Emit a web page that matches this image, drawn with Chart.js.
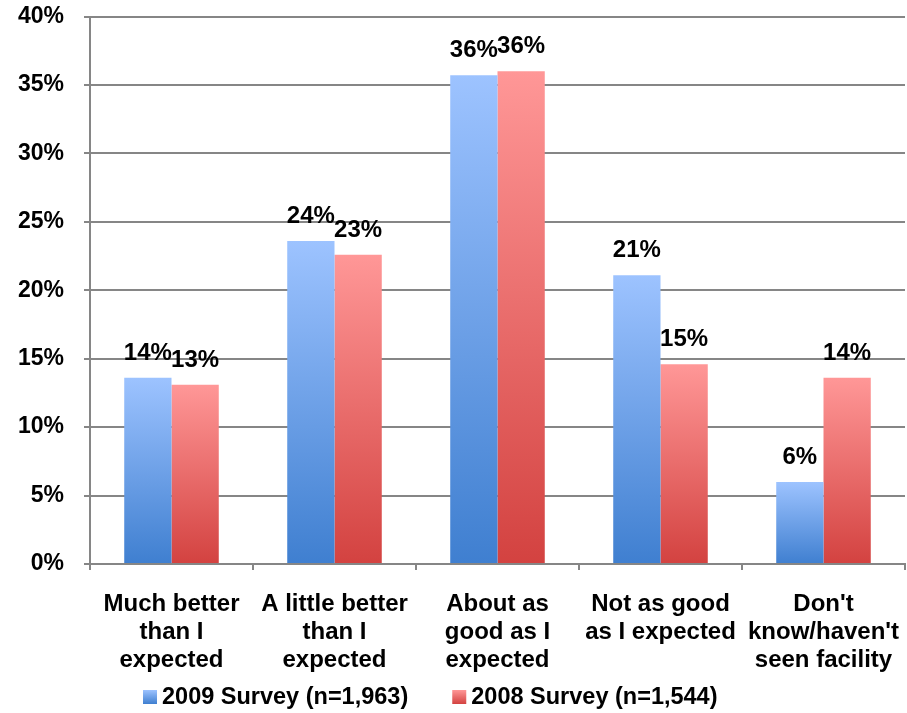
<!DOCTYPE html>
<html>
<head>
<meta charset="utf-8">
<script src="https://cdn.jsdelivr.net/npm/chart.js@4.4.0/dist/chart.umd.min.js"></script>
<style>
  html, body { margin: 0; padding: 0; background: #fff; }
  #wrap { width: 907px; height: 713px; position: relative; }
</style>
</head>
<body>
<div id="wrap"><canvas id="chart"></canvas></div>
<script>
const categories = [
  ["Much better", "than I", "expected"],
  ["A little better", "than I", "expected"],
  ["About as", "good as I", "expected"],
  ["Not as good", "as I expected"],
  ["Don't", "know/haven't", "seen facility"]
];
const seriesNames = ["2009 Survey (n=1,963)", "2008 Survey (n=1,544)"];
const survey2009 = [13.6, 23.6, 35.7, 21.1, 6.0];
const survey2008 = [13.1, 22.6, 36.0, 14.6, 13.6];
const yTicks = [0, 5, 10, 15, 20, 25, 30, 35, 40];

const FONT = "'Liberation Sans', Arial, sans-serif";
const GRID = "#868686";
const colors = [
  { top: "#9dc3ff", bottom: "#3f7fd0" },
  { top: "#ff9797", bottom: "#d34240" }
];

function barGradient(idx) {
  return function (ctx) {
    const chart = ctx.chart;
    if (!chart.chartArea || ctx.type !== "data") return colors[idx].top;
    const y = chart.scales.y;
    const yTop = y.getPixelForValue(ctx.raw);
    const yBot = y.getPixelForValue(0);
    if (!isFinite(yTop) || yTop === yBot) return colors[idx].top;
    const g = chart.ctx.createLinearGradient(0, yTop, 0, yBot);
    g.addColorStop(0, colors[idx].top);
    g.addColorStop(1, colors[idx].bottom);
    return g;
  };
}

// value labels above each bar
const valueLabels = {
  id: "valueLabels",
  afterDatasetsDraw(chart) {
    const c = chart.ctx;
    c.save();
    c.font = "bold 24px " + FONT;
    c.fillStyle = "#000";
    c.textAlign = "center";
    c.textBaseline = "alphabetic";
    chart.data.datasets.forEach((ds, i) => {
      chart.getDatasetMeta(i).data.forEach((bar, j) => {
        c.fillText(Math.round(ds.data[j]) + "%", bar.x, bar.y - 18);
      });
    });
    c.restore();
  }
};

// legend at the bottom with gradient boxes
const bottomLegend = {
  id: "bottomLegend",
  afterDraw(chart) {
    const c = chart.ctx;
    c.save();
    c.font = "bold 23.5px " + FONT;
    c.textBaseline = "middle";
    c.textAlign = "left";
    let x = 143;
    const cy = 697;
    seriesNames.forEach((name, i) => {
      const g = c.createLinearGradient(0, cy - 7, 0, cy + 7);
      g.addColorStop(0, colors[i].top);
      g.addColorStop(1, colors[i].bottom);
      c.fillStyle = g;
      c.fillRect(x, cy - 7, 14, 14);
      c.fillStyle = "#000";
      c.fillText(name, x + 19, cy + 1);
      x += 19 + c.measureText(name).width + 44;
    });
    c.restore();
  }
};

new Chart(document.getElementById("chart"), {
  type: "bar",
  data: {
    labels: categories,
    datasets: [
      { label: seriesNames[0], data: survey2009, backgroundColor: barGradient(0), borderWidth: 0 },
      { label: seriesNames[1], data: survey2008, backgroundColor: barGradient(1), borderWidth: 0 }
    ]
  },
  options: {
    responsive: true,
    maintainAspectRatio: false,
    animation: false,
    datasets: {
      bar: { categoryPercentage: 0.58, barPercentage: 1 }
    },
    layout: {
      padding: { top: 16.5, right: 2, left: 0, bottom: 40 }
    },
    plugins: {
      legend: { display: false },
      tooltip: { enabled: false },
      title: { display: false }
    },
    scales: {
      x: {
        offset: true,
        grid: { offset: true, drawOnChartArea: false, drawTicks: true, tickLength: 6, color: GRID, lineWidth: 2 },
        border: { color: GRID, width: 2 },
        ticks: {
          autoSkip: false,
          maxRotation: 0,
          padding: 21,
          color: "#000",
          font: { family: FONT, size: 24, weight: "bold", lineHeight: 1.15 }
        },
        afterFit(scale) {
          scale.height = 109;
          scale.paddingLeft = 0;
          scale.paddingRight = 0;
        }
      },
      y: {
        min: yTicks[0],
        max: yTicks[yTicks.length - 1],
        afterBuildTicks(scale) { scale.ticks = yTicks.map(v => ({ value: v })); },
        grid: { color: GRID, lineWidth: 2, tickLength: 6 },
        border: { color: GRID, width: 2 },
        ticks: {
          padding: 20,
          color: "#000",
          font: { family: FONT, size: 23, weight: "bold" },
          callback: v => v + "%"
        },
        afterFit(scale) {
          scale.width = 90;
          scale.paddingTop = 0;
          scale.paddingBottom = 0;
        }
      }
    }
  },
  plugins: [valueLabels, bottomLegend]
});
</script>
</body>
</html>
